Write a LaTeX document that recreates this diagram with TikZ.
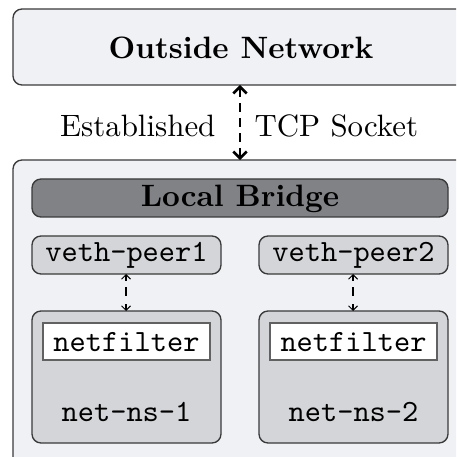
\documentclass[tikz,border=0pt]{standalone}
\usetikzlibrary{arrows.meta}
\definecolor{bgpale}{HTML}{F0F1F5}
\definecolor{bridgegray}{HTML}{808286}
\definecolor{vethgray}{HTML}{D4D5D8}
\definecolor{edgegray}{HTML}{3A3A3A}
\begin{document}
\begin{tikzpicture}[x=0.33333pt,y=-0.33333pt,
  bigbox/.style={draw=edgegray,line width=0.45pt,fill=bgpale,rounded corners=3pt},
  bridgebox/.style={draw=edgegray,line width=0.45pt,fill=bridgegray,rounded corners=3pt},
  vethbox/.style={draw=edgegray,line width=0.45pt,fill=vethgray,rounded corners=3pt},
  filterbox/.style={draw=edgegray!80,line width=0.45pt,fill=white},
  mainarrow/.style={line width=0.9pt,dash pattern=on 3pt off 2pt,{Straight Barb[length=2.2pt,width=4.5pt]}-{Straight Barb[length=2.2pt,width=4.5pt]}},
  smallarrow/.style={line width=0.35pt,dash pattern=on 2pt off 2pt on 3pt off 2.7pt on 3pt,{Straight Barb[length=1.5pt,width=3pt]}-{Straight Barb[length=1.5pt,width=3pt]}},
  lbl/.style={inner sep=0pt},
  font=\fontsize{10.3pt}{12.4pt}\selectfont]
\useasboundingbox (0,0) rectangle (456,457);
\begin{scope}
\clip (0,0) rectangle (456,457);
% outside network
\draw[bigbox] (13,9) rectangle (480,85);
\node[lbl,font=\fontsize{10.3pt}{12.4pt}\bfseries] (outside) at (241,48) {Outside Network};
\coordinate (outbot) at (240,85);
% local host box
\draw[bigbox] (13,160) rectangle (480,490);
\coordinate (loctop) at (240,160);
\draw[mainarrow] (outbot) -- (loctop);
\node[lbl,anchor=east] (est) at (216,126) {Established};
\node[lbl,anchor=west] (tcp) at (254,126) {TCP Socket};
% bridge
\draw[bridgebox] (32,179) rectangle (448,217);
\node[lbl,font=\fontsize{10.3pt}{12.4pt}\bfseries] (bridge) at (240,199) {Local Bridge};
% veth
\draw[vethbox] (32,236) rectangle (221,274);
\node[lbl,font=\fontsize{10.3pt}{12.4pt}\ttfamily] (veth1) at (126.5,255) {veth-peer1};
\draw[vethbox] (259,236) rectangle (448,274);
\node[lbl,font=\fontsize{10.3pt}{12.4pt}\ttfamily] (veth2) at (353.5,255) {veth-peer2};
\coordinate (v1b) at (126,274);
\coordinate (v2b) at (353,274);
% namespaces
\draw[vethbox] (32,311) rectangle (221,443);
\draw[vethbox] (259,311) rectangle (448,443);
\coordinate (n1t) at (126,311);
\coordinate (n2t) at (353,311);
\draw[smallarrow] (v1b) -- (n1t);
\draw[smallarrow] (v2b) -- (n2t);
\draw[filterbox] (43,323) rectangle (210,360);
\node[lbl,font=\fontsize{10.3pt}{12.4pt}\ttfamily] (nf1) at (126.5,342) {netfilter};
\draw[filterbox] (270,323) rectangle (437,360);
\node[lbl,font=\fontsize{10.3pt}{12.4pt}\ttfamily] (nf2) at (353.5,342) {netfilter};
\node[lbl,font=\fontsize{10.3pt}{12.4pt}\ttfamily] (ns1) at (126.5,412) {net-ns-1};
\node[lbl,font=\fontsize{10.3pt}{12.4pt}\ttfamily] (ns2) at (353.5,412) {net-ns-2};
\end{scope}
\end{tikzpicture}
\end{document}
